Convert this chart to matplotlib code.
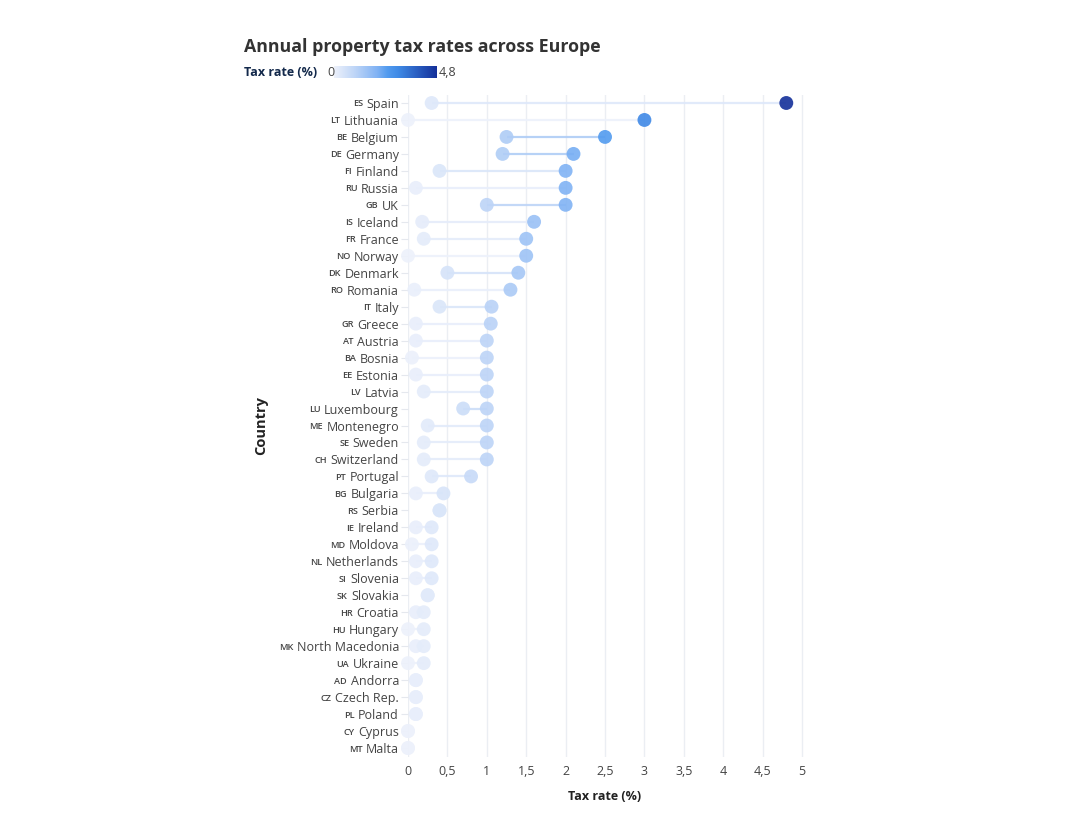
import matplotlib
matplotlib.use('Agg')
import matplotlib.pyplot as plt
from matplotlib.colors import LinearSegmentedColormap, Normalize
from matplotlib.ticker import FuncFormatter
import numpy as np

countries = ["Spain", "Lithuania", "Belgium", "Germany", "Finland", "Russia", "UK",
             "Iceland", "France", "Norway", "Denmark", "Romania", "Italy", "Greece",
             "Austria", "Bosnia", "Estonia", "Latvia", "Luxembourg", "Montenegro",
             "Sweden", "Switzerland", "Portugal", "Bulgaria", "Serbia", "Ireland",
             "Moldova", "Netherlands", "Slovenia", "Slovakia", "Croatia", "Hungary",
             "North Macedonia", "Ukraine", "Andorra", "Czech Rep.", "Poland", "Cyprus", "Malta"]
codes = ["ES", "LT", "BE", "DE", "FI", "RU", "GB", "IS", "FR", "NO", "DK", "RO", "IT", "GR",
         "AT", "BA", "EE", "LV", "LU", "ME", "SE", "CH", "PT", "BG", "RS", "IE", "MD", "NL",
         "SI", "SK", "HR", "HU", "MK", "UA", "AD", "CZ", "PL", "CY", "MT"]
min_rate = [0.3, 0.0, 1.25, 1.2, 0.4, 0.1, 1.0, 0.18, 0.2, 0.0, 0.5, 0.08, 0.4, 0.1,
            0.1, 0.05, 0.1, 0.2, 0.7, 0.25, 0.2, 0.2, 0.3, 0.1, 0.4, 0.1, 0.05, 0.1,
            0.1, 0.25, 0.1, 0.0, 0.1, 0.0, 0.1, 0.1, 0.1, 0.0, 0.0]
max_rate = [4.8, 3.0, 2.5, 2.1, 2.0, 2.0, 2.0, 1.6, 1.5, 1.5, 1.4, 1.3, 1.06, 1.05,
            1.0, 1.0, 1.0, 1.0, 1.0, 1.0, 1.0, 1.0, 0.8, 0.45, 0.4, 0.3, 0.3, 0.3,
            0.3, 0.25, 0.2, 0.2, 0.2, 0.2, 0.1, 0.1, 0.1, 0.0, 0.0]
x_ticks = [0, 0.5, 1, 1.5, 2, 2.5, 3, 3.5, 4, 4.5, 5]

plt.rcParams['font.family'] = ['Open Sans', 'DejaVu Sans']

W, H = 1091, 813
fig = plt.figure(figsize=(W / 100, H / 100), dpi=100)


def fy(py):
    return 1 - py / H


ax = fig.add_axes([408 / W, fy(756.5), (806 - 408) / W, (756.5 - 94.5) / H])

cmap = LinearSegmentedColormap.from_list(
    'tax', [(0.0, '#edf1fb'), (0.21, '#bcd4f7'), (0.42, '#80b2f4'),
            (0.52, '#529bef'), (0.625, '#3f8ae6'), (1.0, '#14309a')])
norm = Normalize(0, 4.8)

n = len(countries)
y = np.arange(n)
for i in range(n):
    ax.plot([min_rate[i], max_rate[i]], [i, i], color=cmap(norm(min_rate[i])),
            lw=1.6, alpha=0.9, solid_capstyle='butt', zorder=2)
ax.scatter(min_rate, y, s=100, c=min_rate, cmap=cmap, norm=norm, alpha=0.9,
           edgecolors='none', zorder=3, clip_on=False)
ax.scatter(max_rate, y, s=100, c=max_rate, cmap=cmap, norm=norm, alpha=0.9,
           edgecolors='none', zorder=4, clip_on=False)

ax.set_xlim(0, 5.05)
ax.set_ylim(n - 0.5, -0.5)
ax.set_xticks(x_ticks)
ax.xaxis.set_major_formatter(FuncFormatter(lambda v, p: ('%g' % v).replace('.', ',')))
ax.grid(axis='x', color='#ebeef3', lw=1, zorder=0)
ax.set_axisbelow(True)
for s in ax.spines.values():
    s.set_visible(False)
ax.set_yticks(y)
ax.set_yticklabels(countries, fontsize=9, color='#444444')
ax.tick_params(axis='y', length=5, color='#e5e8ee', pad=1.5)
ax.tick_params(axis='x', length=0, pad=6, labelsize=9, labelcolor='#444444')

# country codes as small labels left of the names
fig.canvas.draw()
renderer = fig.canvas.get_renderer()
for lbl, code in zip(ax.get_yticklabels(), codes):
    bb = lbl.get_window_extent(renderer)
    _, ypix = lbl.get_transform().transform(lbl.get_position())
    fig.text((bb.x0 - 3.5) / W, ypix / H, code, fontsize=6.6, weight='semibold',
             color='#444444', ha='right', va='center_baseline')

fig.text(244 / W, fy(47), 'Annual property tax rates across Europe', fontsize=12.8,
         weight='bold', color='#333333', va='center', ha='left')

fig.text(244 / W, fy(72), 'Tax rate (%)', fontsize=9, weight='bold', color='#13294b',
         va='center', ha='left')
fig.text(327 / W, fy(72), '0', fontsize=9, color='#444444', va='center', ha='left')
cax = fig.add_axes([334 / W, fy(78), 103 / W, 12 / H])
cax.imshow(np.linspace(0, 1, 256).reshape(1, -1), aspect='auto', cmap=cmap,
           extent=[0, 1, 0, 1])
cax.set_axis_off()
fig.text(439 / W, fy(72), '4,8', fontsize=9, color='#444444', va='center', ha='left')

fig.text(605 / W, fy(796), 'Tax rate (%)', fontsize=9, weight='bold', color='#222222',
         ha='center', va='center')
fig.text(261 / W, fy(425), 'Country', fontsize=10.5, weight='bold', color='#222222',
         rotation=90, ha='center', va='center')

fig.savefig('out.png', dpi=100)
